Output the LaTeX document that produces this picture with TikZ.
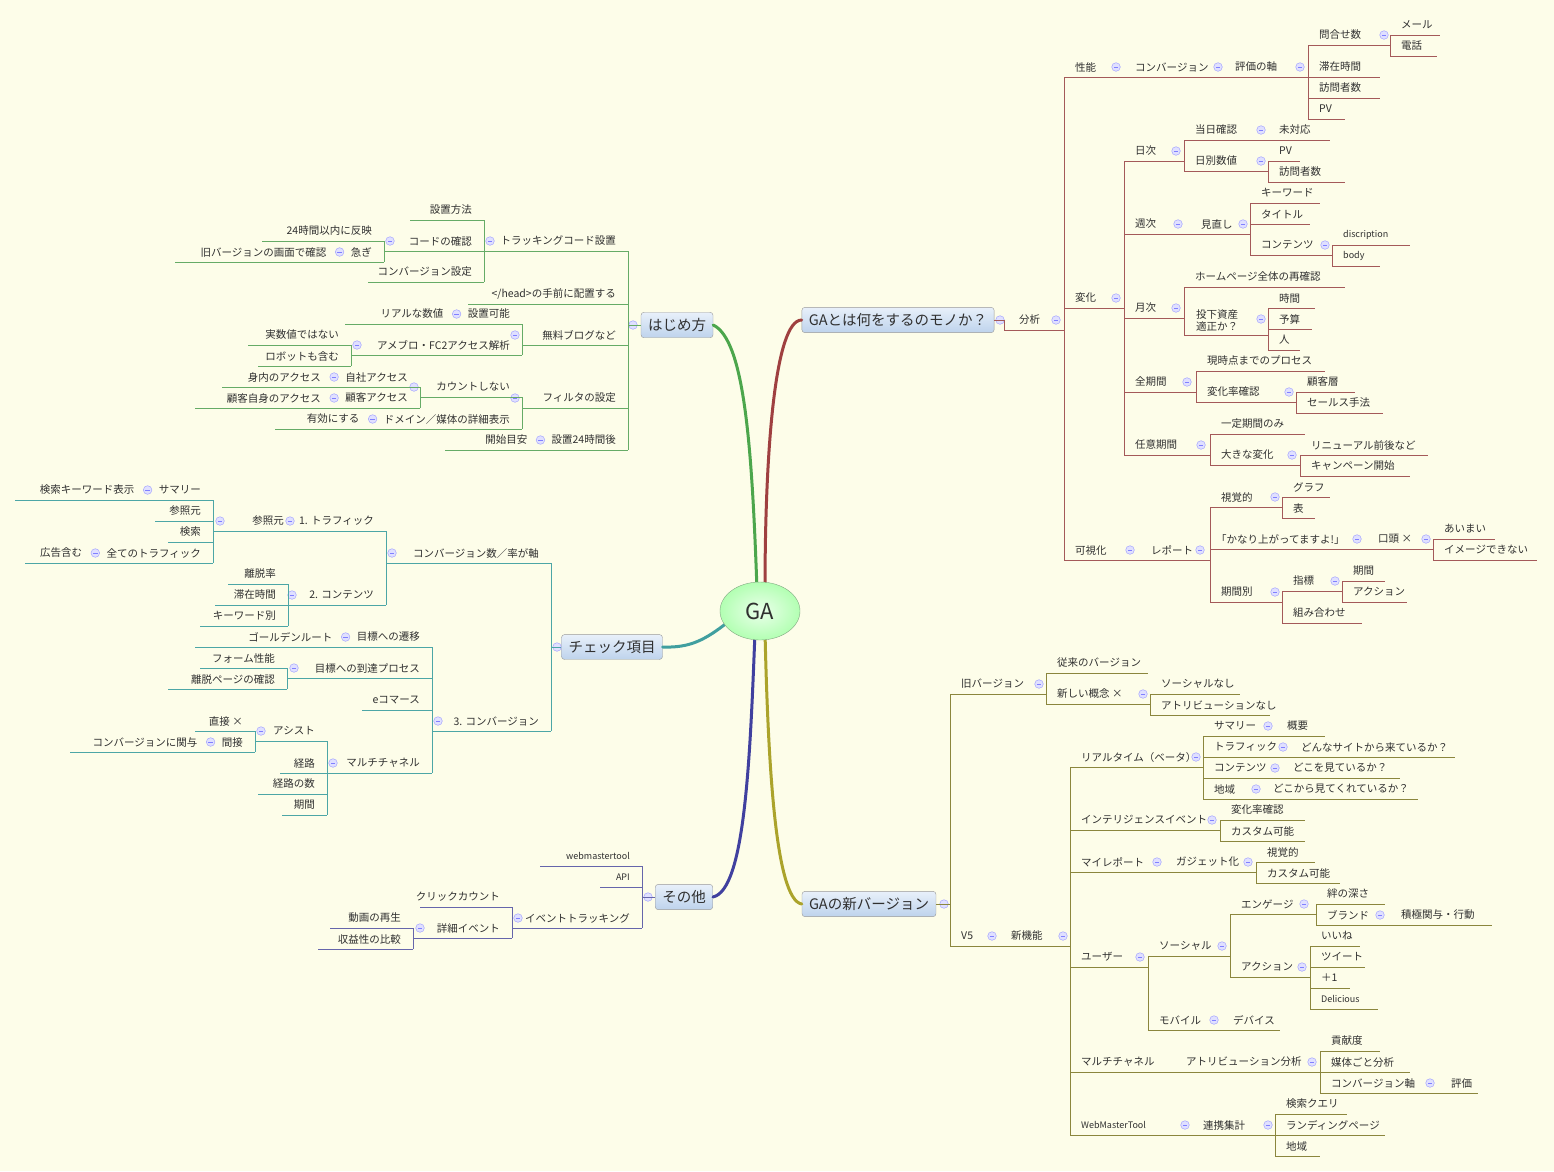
\documentclass[tikz,border=0pt]{standalone}
\usepackage{fontspec}
\setmainfont{Noto Sans CJK JP}
\usetikzlibrary{shapes.geometric}
\begin{document}
\definecolor{bg}{HTML}{FDFDE9}
\definecolor{txc}{HTML}{303030}
\definecolor{boxtop}{HTML}{E8F0FA}
\definecolor{boxbot}{HTML}{BED3EC}
\colorlet{br}{black}
\tikzset{
 ln/.style={draw=br,line width=0.7pt},
 tx/.style={inner sep=0pt,font=\fontsize{10.5}{12}\selectfont,text=txc},
 mainbox/.style={draw=black!40,rounded corners=3pt,top color=boxtop,bottom color=boxbot,inner xsep=7pt,inner ysep=6pt,font=\fontsize{14.5}{16}\selectfont,text=txc},
 mainln/.style={line width=3pt,line cap=round},
 cirs/.style={draw=blue!35,fill=blue!12,line width=0.5pt}
}
\newcommand\rit[4]{\draw[ln] (#1,#3+10)--(#2,#3+10); \node[tx,anchor=west] at (#1+11,#3) {#4};}
\newcommand\lit[4]{\draw[ln] (#1,#3+10)--(#2,#3+10); \node[tx,anchor=east] at (#2-12,#3) {#4};}
\newcommand\trk[3]{\draw[ln] (#1,#2+10)--(#1,#3+10);}
\newcommand\ccr[2]{\draw[cirs] (#1,#2) circle (4.3); \draw[blue!50,line width=0.6pt] (#1-2.2,#2)--(#1+2.2,#2);}
\newcommand\ccrat[1]{\draw[cirs] (#1) circle (4.3); \draw[blue!50,line width=0.6pt] ([xshift=-2.2pt]#1)--([xshift=2.2pt]#1);}
\newcommand\lchain[5]{\draw[ln] (#1,#3+10)--(#2,#3+10); \node[tx,anchor=east] (tmp) at (#2-12,#3) {#4}; \coordinate (cc) at ([xshift=-11pt]tmp.west); \ccrat{cc} \node[tx,anchor=east] at ([xshift=-13pt]cc) {#5};}
\begin{tikzpicture}[x=1pt,y=-1pt]
\fill[bg] (0,0) rectangle (1554,1171);
\useasboundingbox (0,0) rectangle (1554,1171);
% main nodes
\node[mainbox] (hj) at (677,325) {はじめ方};
\node[mainbox] (ck) at (612,647) {チェック項目};
\node[mainbox] (ot) at (684,897) {その他};
\node[mainbox] (ga1) at (898,320) {GAとは何をするのモノか？};
\node[mainbox] (ga2) at (869,904) {GAの新バージョン};
\draw[mainln,draw=green!50!black!70] (hj.east) .. controls (745,340) and (752,450) .. (757,590);
\draw[mainln,draw=red!50!black!75] (ga1.west) .. controls (775,320) and (765,450) .. (765,590);
\draw[mainln,draw=teal!75] (ck.east) .. controls (690,648) and (705,640) .. (728,622);
\draw[mainln,draw=blue!50!black!75] (ot.east) .. controls (745,890) and (750,760) .. (755,632);
\draw[mainln,draw=olive!75] (ga2.west) .. controls (775,900) and (768,760) .. (765,632);
\node[ellipse,draw=green!30!black!50,inner sep=0pt,minimum width=80pt,minimum height=58pt,inner color=green!8,outer color=green!30,font=\fontsize{22}{24}\selectfont,text=txc] (ga) at (760,611) {GA};
% ===== GA toha
\begin{scope}
\colorlet{br}{red!45!black!65}
\ccr{1000}{320}
\draw[ln] (ga1.east)--(1004,320)--(1004,330)--(1064,330);
\node[tx,anchor=west] at (1019,320) {分析};
\ccr{1056}{320}
\trk{1064}{67}{550}
\rit{1064}{1124}{67}{性能} \ccr{1116}{67}
\rit{1124}{1224}{67}{コンバージョン} \ccr{1218}{67}
\rit{1224}{1308}{67}{評価の軸} \ccr{1300}{67}
\trk{1308}{35}{109}
\rit{1308}{1390}{35}{問合せ数} \ccr{1384}{35}
\trk{1390}{25}{46}
\rit{1390}{1440}{25}{メール}
\rit{1390}{1437}{46}{電話}
\rit{1308}{1380}{67}{滞在時間}
\rit{1308}{1380}{88}{訪問者数}
\rit{1308}{1345}{109}{PV}
\rit{1064}{1124}{298}{変化} \ccr{1116}{298}
\trk{1124}{151}{445}
\rit{1124}{1184}{151}{日次}\ccr{1176}{151}
\trk{1184}{130}{161}
\rit{1184}{1268}{130}{当日確認}\ccr{1261}{130}
\rit{1268}{1330}{130}{未対応}
\rit{1184}{1268}{161}{日別数値}\ccr{1261}{161}
\trk{1268}{151}{172}
\rit{1268}{1300}{151}{PV}
\rit{1268}{1345}{172}{訪問者数}
\rit{1124}{1190}{224}{週次}\ccr{1178}{224}
\rit{1190}{1250}{224}{見直し}\ccr{1243}{224}
\trk{1250}{193}{245}
\rit{1250}{1320}{193}{キーワード}
\rit{1250}{1310}{214}{タイトル}
\rit{1250}{1332}{245}{コンテンツ}\ccr{1325}{245}
\trk{1332}{235}{256}
\rit{1332}{1410}{235}{\small discription}
\rit{1332}{1380}{256}{\small body}
\rit{1124}{1184}{308}{月次}\ccr{1176}{308}
\trk{1184}{277}{325}
\rit{1184}{1345}{277}{ホームページ全体の再確認}
\draw[ln] (1184,335)--(1268,335);
\node[tx,align=left,anchor=west] at (1196,320) {投下資産\\適正か？};
\ccr{1261}{319}
\trk{1268}{298}{340}
\rit{1268}{1315}{298}{時間}
\rit{1268}{1312}{319}{予算}
\rit{1268}{1300}{340}{人}
\rit{1124}{1196}{382}{全期間}\ccr{1187}{382}
\trk{1196}{361}{392}
\rit{1196}{1325}{361}{現時点までのプロセス}
\rit{1196}{1296}{392}{変化率確認}\ccr{1289}{392}
\trk{1296}{382}{403}
\rit{1296}{1355}{382}{顧客層}
\rit{1296}{1383}{403}{セールス手法}
\rit{1124}{1210}{445}{任意期間}\ccr{1201}{445}
\trk{1210}{424}{455}
\rit{1210}{1305}{424}{一定期間のみ}
\rit{1210}{1300}{455}{大きな変化}\ccr{1292}{455}
\trk{1300}{445}{466}
\rit{1300}{1428}{445}{リニューアル前後など}
\rit{1300}{1410}{466}{キャンペーン開始}
\rit{1064}{1140}{550}{可視化}\ccr{1130}{550}
\rit{1140}{1210}{550}{レポート}\ccr{1200}{550}
\trk{1210}{497}{592}
\rit{1210}{1282}{497}{視覚的}\ccr{1275}{497}
\trk{1282}{487}{508}
\rit{1282}{1330}{487}{グラフ}
\rit{1282}{1315}{508}{表}
\draw[ln] (1210,549)--(1367,549); \node[tx,anchor=west] at (1216,539) {「かなり上がってますよ!」};
\ccr{1357}{539}
\rit{1367}{1433}{539}{口頭 ×}\ccr{1426}{539}
\trk{1433}{529}{550}
\rit{1433}{1495}{529}{あいまい}
\rit{1433}{1537}{550}{イメージできない}
\rit{1210}{1282}{592}{期間別}\ccr{1275}{592}
\trk{1282}{581}{613}
\rit{1282}{1342}{581}{指標}\ccr{1335}{581}
\trk{1342}{571}{592}
\rit{1342}{1385}{571}{期間}
\rit{1342}{1407}{592}{アクション}
\rit{1282}{1362}{613}{組み合わせ}
\end{scope}
% ===== new version
\begin{scope}
\colorlet{br}{olive!70!black!80}
\ccr{944}{904}
\draw[ln] (ga2.east)--(950,904);
\trk{950}{684}{936}
\rit{950}{1046}{684}{旧バージョン}\ccr{1039}{684}
\trk{1046}{663}{694}
\rit{1046}{1148}{663}{従来のバージョン}
\rit{1046}{1150}{694}{新しい概念 ×}\ccr{1143}{694}
\trk{1150}{684}{705}
\rit{1150}{1240}{684}{ソーシャルなし}
\rit{1150}{1270}{705}{アトリビューションなし}
\rit{950}{1000}{936}{V5}\ccr{992}{936}
\rit{1000}{1070}{936}{新機能}\ccr{1063}{936}
\trk{1070}{757}{1125}
\rit{1070}{1203}{757}{リアルタイム（ベータ）}\ccr{1196}{757}
\trk{1203}{726}{789}
\rit{1203}{1276}{726}{サマリー}\ccr{1268}{726}
\rit{1276}{1325}{726}{概要}
\rit{1203}{1290}{747}{トラフィック}\ccr{1283}{747}
\rit{1290}{1455}{747}{どんなサイトから来ているか？}
\rit{1203}{1282}{768}{コンテンツ}\ccr{1275}{768}
\rit{1282}{1400}{768}{どこを見ているか？}
\rit{1203}{1262}{789}{地域}\ccr{1256}{789}
\rit{1262}{1418}{789}{どこから見てくれているか？}
\rit{1070}{1220}{820}{インテリジェンスイベント}\ccr{1212}{820}
\trk{1220}{810}{831}
\rit{1220}{1305}{810}{変化率確認}
\rit{1220}{1305}{831}{カスタム可能}
\rit{1070}{1165}{862}{マイレポート}\ccr{1157}{862}
\rit{1165}{1256}{862}{ガジェット化}\ccr{1248}{862}
\trk{1256}{852}{873}
\rit{1256}{1315}{852}{視覚的}
\rit{1256}{1340}{873}{カスタム可能}
\rit{1070}{1148}{957}{ユーザー}\ccr{1140}{957}
\trk{1148}{946}{1020}
\rit{1148}{1230}{946}{ソーシャル}\ccr{1222}{946}
\trk{1230}{904}{967}
\rit{1230}{1316}{904}{エンゲージ}\ccr{1304}{904}
\trk{1316}{894}{915}
\rit{1316}{1385}{894}{絆の深さ}
\rit{1316}{1390}{915}{ブランド}\ccr{1380}{915}
\rit{1390}{1492}{915}{積極関与・行動}
\rit{1230}{1310}{967}{アクション}\ccr{1302}{967}
\trk{1310}{936}{999}
\rit{1310}{1360}{936}{いいね}
\rit{1310}{1365}{957}{ツイート}
\rit{1310}{1350}{978}{＋1}
\rit{1310}{1378}{999}{\small Delicious}
\rit{1148}{1222}{1020}{モバイル}\ccr{1214}{1020}
\rit{1222}{1280}{1020}{デバイス}
\rit{1070}{1175}{1062}{マルチチャネル}
\rit{1175}{1320}{1062}{アトリビューション分析}\ccr{1312}{1062}
\trk{1320}{1041}{1083}
\rit{1320}{1380}{1041}{貢献度}
\rit{1320}{1410}{1062}{媒体ごと分析}
\rit{1320}{1440}{1083}{コンバージョン軸}\ccr{1430}{1083}
\rit{1440}{1478}{1083}{評価}
\rit{1070}{1192}{1125}{\small WebMasterTool}\ccr{1185}{1125}
\rit{1192}{1275}{1125}{連携集計}\ccr{1268}{1125}
\trk{1275}{1104}{1146}
\rit{1275}{1347}{1104}{検索クエリ}
\rit{1275}{1385}{1125}{ランディングページ}
\rit{1275}{1320}{1146}{地域}
\end{scope}
% ===== hajimekata
\begin{scope}
\colorlet{br}{green!45!black!60}
\ccr{633}{325}
\draw[ln] (hj.west)--(628,325);
\trk{628}{241}{440}
\lit{484}{628}{241}{トラッキングコード設置}\ccr{490}{241}
\trk{484}{210}{272}
\lit{410}{484}{210}{設置方法}
\lit{384}{484}{241}{コードの確認}\ccr{390}{241}
\trk{384}{231}{252}
\lit{262}{384}{231}{24時間以内に反映}
\lchain{175}{384}{252}{急ぎ}{旧バージョンの画面で確認}
\lit{368}{484}{272}{コンバージョン設定}
\lit{468}{628}{294}{</head>の手前に配置する}
\lit{522}{628}{335}{無料ブログなど}\ccr{515}{335}
\trk{522}{314}{345}
\lchain{345}{522}{314}{設置可能}{リアルな数値}
\lit{351}{522}{345}{アメブロ・FC2アクセス解析}\ccr{357}{345}
\trk{351}{335}{356}
\lit{248}{351}{335}{実数値ではない}
\lit{258}{351}{356}{ロボットも含む}
\lit{522}{628}{398}{フィルタの設定}\ccr{515}{398}
\trk{522}{387}{419}
\lit{420}{522}{387}{カウントしない}\ccr{414}{387}
\trk{420}{377}{398}
\lchain{222}{420}{377}{自社アクセス}{身内のアクセス}
\lchain{195}{420}{398}{顧客アクセス}{顧客自身のアクセス}
\lchain{275}{522}{419}{ドメイン／媒体の詳細表示}{有効にする}
\lchain{445}{628}{440}{設置24時間後}{開始目安}
\end{scope}
% ===== check
\begin{scope}
\colorlet{br}{teal!70}
\ccr{557}{647}
\draw[ln] (ck.west)--(551,647);
\trk{551}{553}{721}
\lit{386}{551}{553}{コンバージョン数／率が軸}\ccr{392}{553}
\trk{386}{521}{595}
\lit{296}{386}{521}{1. トラフィック}\ccr{290}{521}
\lit{213}{296}{521}{参照元}\ccr{220}{521}
\trk{213}{490}{553}
\lchain{15}{213}{490}{サマリー}{検索キーワード表示}
\lit{155}{213}{511}{参照元}
\lit{168}{213}{532}{検索}
\lchain{25}{213}{553}{全てのトラフィック}{広告含む}
\lit{288}{386}{595}{2. コンテンツ}\ccr{292}{595}
\trk{288}{574}{616}
\lit{228}{288}{574}{離脱率}
\lit{215}{288}{595}{滞在時間}
\lit{200}{288}{616}{キーワード別}
\lit{432}{551}{721}{3. コンバージョン}\ccr{438}{721}
\trk{432}{637}{763}
\lchain{195}{432}{637}{目標への遷移}{ゴールデンルート}
\lit{287}{432}{668}{目標への到達プロセス}\ccr{294}{668}
\trk{287}{658}{679}
\lit{200}{287}{658}{フォーム性能}
\lit{168}{287}{679}{離脱ページの確認}
\lit{362}{432}{700}{eコマース}
\lit{327}{432}{763}{マルチチャネル}\ccr{333}{763}
\trk{327}{731}{805}
\lit{255}{327}{731}{アシスト}\ccr{261}{731}
\trk{255}{721}{742}
\lit{195}{255}{721}{直接 ×}
\lchain{70}{255}{742}{間接}{コンバージョンに関与}
\lit{280}{327}{763}{経路}
\lit{258}{327}{784}{経路の数}
\lit{282}{327}{805}{期間}
\end{scope}
% ===== other
\begin{scope}
\colorlet{br}{blue!45!black!60}
\ccr{648}{897}
\draw[ln] (ot.west)--(642,897);
\trk{642}{856}{918}
\lit{540}{642}{856}{\small webmastertool}
\lit{600}{642}{877}{\small API}
\lit{512}{642}{918}{イベントトラッキング}\ccr{518}{918}
\trk{512}{897}{928}
\lit{420}{512}{897}{クリックカウント}
\lit{413}{512}{928}{詳細イベント}\ccr{420}{928}
\trk{413}{918}{939}
\lit{330}{413}{918}{動画の再生}
\lit{318}{413}{939}{収益性の比較}
\end{scope}
\end{tikzpicture}
\end{document}
